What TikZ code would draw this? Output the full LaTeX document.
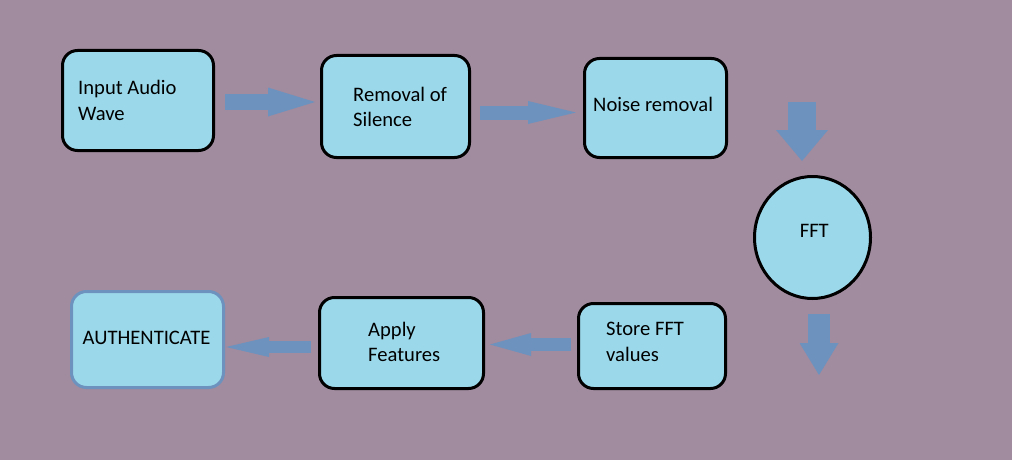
\documentclass[tikz,border=0pt]{standalone}
\usepackage{fontspec}
\setmainfont{Carlito}
\usetikzlibrary{arrows.meta,shapes.geometric}
\definecolor{bgc}{RGB}{161,139,158}
\definecolor{boxc}{RGB}{155,217,234}
\definecolor{arrc}{RGB}{110,146,190}
\tikzset{
  boxnode/.style={draw=black, line width=3pt, fill=boxc, rounded corners=15pt, rectangle, inner sep=0pt},
  txt/.style={inner sep=0pt, anchor=base west, font=\fontsize{20.6pt}{26pt}\selectfont, text=black},
  blk/.style n args={3}{draw=arrc, line width=#1pt, -{Triangle[length=#3pt, width=#2pt, line width=0pt, fill=arrc]}}
}
\begin{document}
\begin{tikzpicture}[x=1pt, y=-1pt]
\fill[bgc] (0,0) rectangle (1012,460);
\useasboundingbox (0,0) rectangle (1012,460);
% boxes
\node[boxnode, minimum width=151pt, minimum height=100pt] (inp) at (138,100.5) {};
\node[boxnode, minimum width=148pt, minimum height=102pt] (rem) at (395.5,106.5) {};
\node[boxnode, minimum width=142pt, minimum height=99pt] (noi) at (655.5,108) {};
\node[draw=black, line width=3pt, fill=boxc, ellipse, inner sep=0pt, minimum width=116pt, minimum height=122pt] (fft) at (812.5,237.5) {};
\node[boxnode, minimum width=147pt, minimum height=85pt] (sto) at (652,346) {};
\node[boxnode, minimum width=164pt, minimum height=91pt] (app) at (401.5,343) {};
\node[boxnode, draw=arrc, minimum width=152pt, minimum height=96pt] (aut) at (147.5,339.5) {};
% texts
\node[txt] (tinp1) at (78,94.3) {Input Audio};
\node[txt] (tinp2) at (78,120.7) {Wave};
\node[txt] (trem1) at (353,101) {Removal of};
\node[txt] (trem2) at (353,126.7) {Silence};
\node[txt] (tnoi) at (593,111) {Noise removal};
\node[txt, anchor=base] (tfft) at (814.3,237.7) {FFT};
\node[txt] (tsto1) at (606,335.3) {Store FFT};
\node[txt] (tsto2) at (606,361) {values};
\node[txt] (tapp1) at (368,336.7) {Apply};
\node[txt] (tapp2) at (368,361.7) {Features};
\node[txt] (taut) at (82.5,344.3) {AUTHENTICATE};
% arrow end points
\coordinate (a1s) at (225,102);   \coordinate (a1e) at (315,102);
\coordinate (a2s) at (480,112.5); \coordinate (a2e) at (576,112.5);
\coordinate (a3s) at (802,102);   \coordinate (a3e) at (802,161);
\coordinate (a4s) at (819,314);   \coordinate (a4e) at (819,375);
\coordinate (a5s) at (571,344.5); \coordinate (a5e) at (490,344.5);
\coordinate (a6s) at (311,347);   \coordinate (a6e) at (226,347);
% arrows
\draw[blk={16}{29}{47}] (a1s) -- (a1e);
\draw[blk={14}{23}{48}] (a2s) -- (a2e);
\draw[blk={28}{52}{31}] (a3s) -- (a3e);
\draw[blk={22}{39}{32}] (a4s) -- (a4e);
\draw[blk={12.5}{23}{41}] (a5s) -- (a5e);
\draw[blk={12}{20}{43}] (a6s) -- (a6e);
\end{tikzpicture}
\end{document}
